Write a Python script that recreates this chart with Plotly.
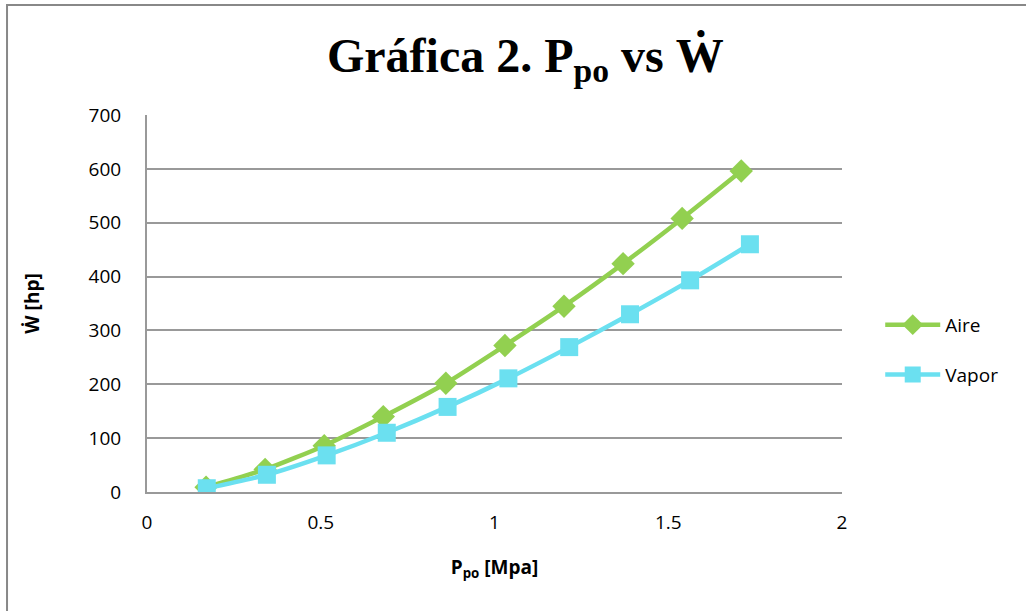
import plotly.graph_objects as go

# data
aire_x = [0.17, 0.34, 0.51, 0.68, 0.86, 1.03, 1.20, 1.37, 1.54, 1.71]
aire_w = [9, 42, 86, 140, 202, 272, 345, 424, 508, 596]
vapor_x = [0.172, 0.345, 0.517, 0.69, 0.865, 1.04, 1.215, 1.39, 1.563, 1.735]
vapor_w = [7, 32, 68, 110, 158, 211, 269, 330, 393, 460]

x_ticks = [0, 0.5, 1, 1.5, 2]
y_ticks = [0, 100, 200, 300, 400, 500, 600, 700]

fig = go.Figure()
fig.add_trace(go.Scatter(
    x=aire_x, y=aire_w, name="Aire", mode="lines+markers", legendgroup="a",
    line=dict(color="#92D050", width=4.5, shape="spline", smoothing=0.6),
    marker=dict(symbol="diamond", size=18, color="#92D050"),
))
fig.add_trace(go.Scatter(
    x=vapor_x, y=vapor_w, name="Vapor", mode="lines+markers", legendgroup="v",
    line=dict(color="#6BE0F0", width=4.5, shape="spline", smoothing=0.6),
    marker=dict(symbol="square", size=18, color="#6BE0F0"),
))

fig.update_layout(
    width=1026, height=611,
    margin=dict(l=147, r=184, t=115, b=119, autoexpand=False),
    paper_bgcolor="white", plot_bgcolor="white",
    font=dict(family="Open Sans", size=19, color="black"),
    title=dict(
        text="<b>Gráfica 2. P<sub>po</sub> vs Ẇ</b>",
        x=0.512, xanchor="center", y=0.91, yanchor="middle",
        font=dict(family="Liberation Serif", size=48, color="black"),
    ),
    legend=dict(
        x=1.055, y=0.377, xanchor="left", yanchor="middle",
        font=dict(size=19), tracegroupgap=22, itemwidth=55,
    ),
    showlegend=True,
)
fig.update_xaxes(
    range=[0, 2], tickvals=x_ticks, ticktext=[str(t) for t in x_ticks],
    showgrid=False, showline=True, linecolor="#999999", linewidth=2,
    zeroline=False, ticks="", tickfont=dict(size=19), ticklabelstandoff=12,
    title=dict(text="<b>P<sub>po</sub> [Mpa]</b>", font=dict(size=19), standoff=27),
)
fig.update_yaxes(
    range=[0, 700], tickvals=y_ticks, showgrid=True, gridcolor="#999999",
    gridwidth=2, showline=True, linecolor="#999999", linewidth=2,
    zeroline=False, ticks="", tickfont=dict(size=19), ticklabelstandoff=20,
    title=dict(text="<b>Ẇ [hp]</b>", font=dict(size=19), standoff=44),
)

# chart frame (left and top edges visible in the original)
fig.add_shape(type="rect", xref="paper", yref="paper",
              x0=-0.2014, x1=1.45, y0=-0.45, y1=1.2918,
              line=dict(color="#888888", width=2), layer="below")

fig.write_html("out.html", config={"displayModeBar": False},
               post_script="document.body.style.margin='0';")
